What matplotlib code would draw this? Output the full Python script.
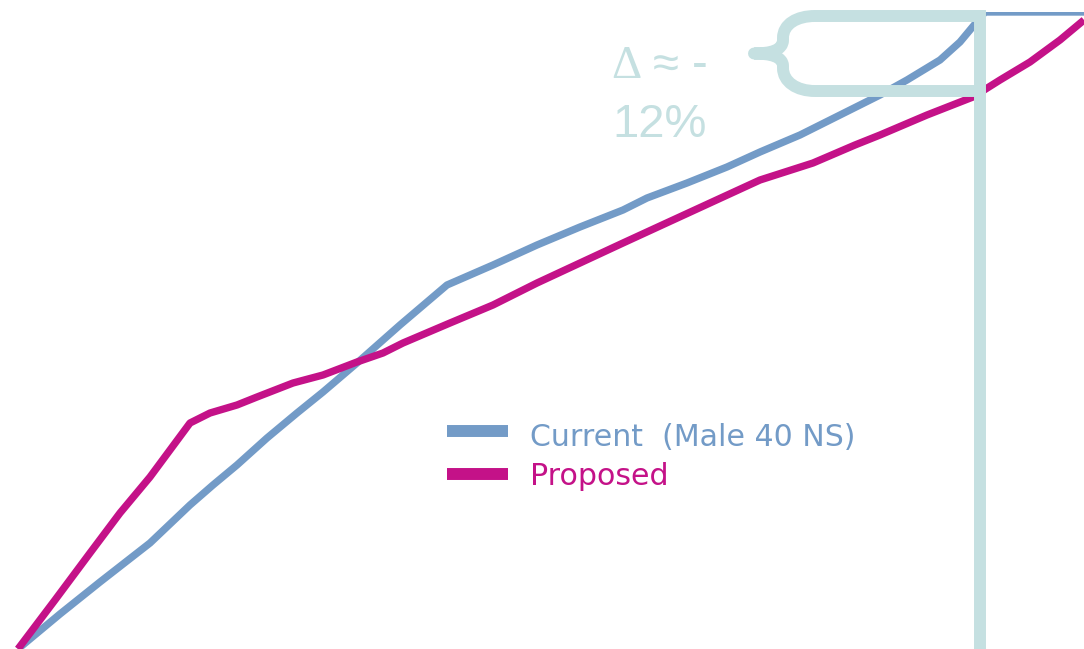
import matplotlib
matplotlib.use("Agg")
import matplotlib.pyplot as plt
from matplotlib.path import Path
from matplotlib.patches import PathPatch, Rectangle

# Duration (horizontal) and accumulated value (vertical) for each basis
current_x = [18, 60, 100, 150, 190, 213, 237, 267, 297, 323, 357, 400, 447, 493,
             537, 580, 623, 647, 687, 727, 760, 800, 840, 880, 907, 940, 960,
             975, 985, 1084]
current_y = [0, 35, 67, 106, 144, 164, 184, 211, 236, 257, 286, 324, 364, 384,
             404, 422, 439, 451, 466, 482, 497, 514, 534, 554, 569, 589, 607,
             625, 637, 637]

proposed_x = [18, 55, 90, 120, 150, 190, 210, 237, 257, 293, 323, 357, 383, 403,
              450, 493, 537, 580, 623, 673, 723, 760, 813, 855, 880, 927, 973,
              1000, 1030, 1060, 1084]
proposed_y = [0, 49, 96, 136, 172, 226, 236, 244, 252, 266, 274, 287, 296, 306,
              326, 344, 366, 386, 406, 429, 452, 469, 486, 504, 514, 534, 552,
              569, 587, 609, 629]

series_labels = ["Current  (Male 40 NS)", "Proposed"]
delta_label = ["\u0394", "\u2248 -", "12%"]

# Comparison point and the band between the two curves there
mark_x = 980
band_top = 633
band_bottom = 558

BLUE = "#739bc7"
MAGENTA = "#c41288"
TEAL = "#c5e0e1"

fig = plt.figure(figsize=(10.84, 6.49), dpi=100)
ax = fig.add_axes([0, 0, 1, 1])
ax.set_xlim(0, 1084)
ax.set_ylim(0, 649)
ax.axis("off")

plot_area = Rectangle((0, -50), 1200, 687.3, transform=ax.transData)

l1, = ax.plot(current_x, current_y, color=BLUE, lw=5.3,
              solid_joinstyle="round", solid_capstyle="butt", zorder=2)
l2, = ax.plot(proposed_x, proposed_y, color=MAGENTA, lw=5.3,
              solid_joinstyle="round", solid_capstyle="butt", zorder=2)
l1.set_clip_path(plot_area)
l2.set_clip_path(plot_area)

# Vertical marker
ax.plot([mark_x, mark_x], [639, -10], color=TEAL, lw=8.6,
        solid_capstyle="butt", zorder=3, clip_on=False)

# Curly brace spanning the gap between the curves
bx = 783
tip_x = 754
mid = (band_top + band_bottom) / 2
verts = [
    (mark_x, band_top), (815, band_top),
    (797, band_top), (bx, band_top - 8), (bx, band_top - 22),
    (bx, band_top - 24),
    (bx, mid + 3), (770, mid), (tip_x, mid),
    (770, mid), (bx, mid - 3), (bx, band_bottom + 25),
    (bx, band_bottom + 23),
    (bx, band_bottom + 9), (797, band_bottom), (815, band_bottom),
    (mark_x, band_bottom),
]
codes = [
    Path.MOVETO, Path.LINETO,
    Path.CURVE4, Path.CURVE4, Path.CURVE4,
    Path.LINETO,
    Path.CURVE4, Path.CURVE4, Path.CURVE4,
    Path.CURVE4, Path.CURVE4, Path.CURVE4,
    Path.LINETO,
    Path.CURVE4, Path.CURVE4, Path.CURVE4,
    Path.LINETO,
]
brace = PathPatch(Path(verts, codes), facecolor="none", edgecolor=TEAL,
                  lw=8.6, joinstyle="round", capstyle="round", zorder=3)
ax.add_patch(brace)

# Delta annotation
ax.text(611, 571, delta_label[0], color=TEAL, fontsize=34,
        family=["Liberation Serif", "DejaVu Serif"], ha="left", va="baseline")
ax.text(653, 571, delta_label[1], color=TEAL, fontsize=34,
        family=["Liberation Sans", "DejaVu Sans"], ha="left", va="baseline")
ax.text(660, 512, delta_label[2], color=TEAL, fontsize=34,
        family=["Liberation Sans", "DejaVu Sans"], ha="center", va="baseline")

# Legend
for (label, color, hy, ty) in [(series_labels[0], BLUE, 218, 203),
                               (series_labels[1], MAGENTA, 175, 164)]:
    ax.plot([447, 508], [hy, hy], color=color, lw=8.6, solid_capstyle="butt")
    ax.text(530, ty, label, color=color, fontsize=21.6,
            family=["DejaVu Sans"], ha="left", va="baseline")

fig.savefig("out.png", dpi=100)
